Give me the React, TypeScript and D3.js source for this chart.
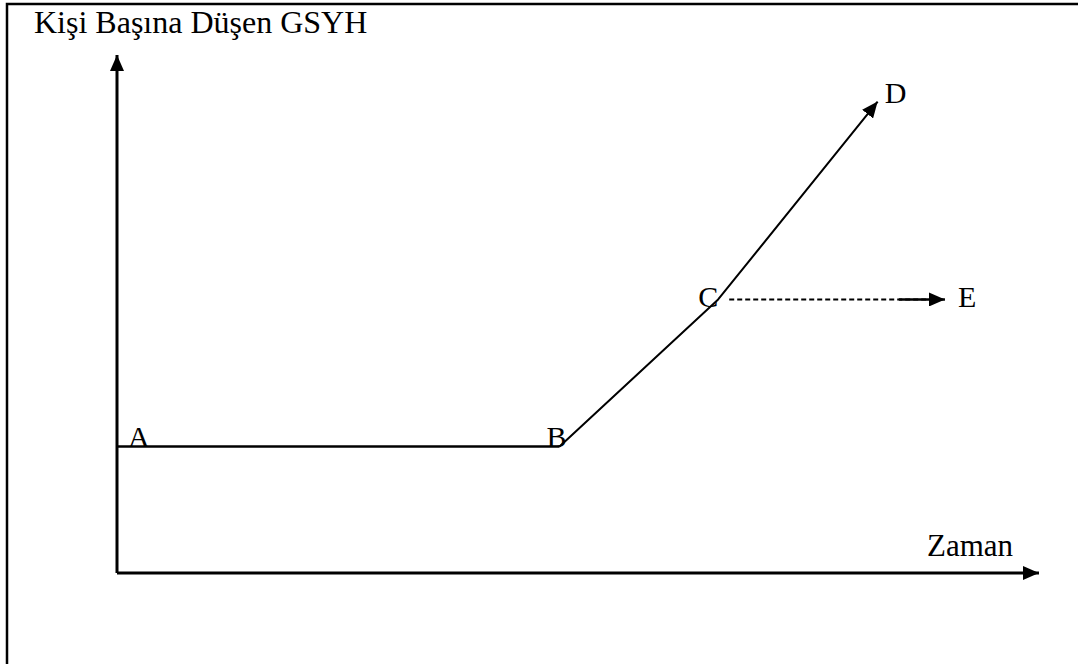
import React, { useEffect, useRef } from 'react';
import * as d3 from 'd3';

// Points of the growth path (time, GDP per capita)
const pathLabels = ['A', 'B', 'C', 'D'];
const pathTime = [0, 4.8, 6.52, 8.25];
const pathValue = [1.22, 1.22, 2.64, 4.55];

// the dashed branch from C towards E
const branchLabels = ['C', 'E'];
const branchTime = [6.52, 8.98];
const branchValue = [2.64, 2.64];

const yTitle = 'Kişi Başına Düşen GSYH';
const xTitle = 'Zaman';

const W = 1078;
const H = 664;
const FONT = '"Liberation Serif", "Times New Roman", serif';

const App = () => {
  const ref = useRef<SVGSVGElement | null>(null);

  useEffect(() => {
    const svg = d3.select(ref.current);
    svg.selectAll('*').remove();

    const x = d3.scaleLinear().domain([0, 10]).range([117, 1039]);
    const y = d3.scaleLinear().domain([0, 5]).range([573, 55]);

    const defs = svg.append('defs');
    const marker = (id: string, len: number, half: number) =>
      defs
        .append('marker')
        .attr('id', id)
        .attr('markerUnits', 'userSpaceOnUse')
        .attr('viewBox', `0 ${-half} ${len} ${half * 2}`)
        .attr('refX', len)
        .attr('refY', 0)
        .attr('markerWidth', len)
        .attr('markerHeight', half * 2)
        .attr('orient', 'auto')
        .append('path')
        .attr('d', `M0,${-half}L${len},0L0,${half}Z`)
        .attr('fill', '#000');
    marker('arrAxis', 16, 7);
    marker('arrLine', 16, 7);

    // frame, its right and bottom edges run off the page
    svg
      .append('rect')
      .attr('x', 7)
      .attr('y', 4)
      .attr('width', 1200)
      .attr('height', 800)
      .attr('fill', 'none')
      .attr('stroke', '#000')
      .attr('stroke-width', 2.5);

    // axes
    svg
      .append('line')
      .attr('x1', x(0))
      .attr('y1', y(0))
      .attr('x2', x(0))
      .attr('y2', y(5))
      .attr('stroke', '#000')
      .attr('stroke-width', 3)
      .attr('marker-end', 'url(#arrAxis)');
    svg
      .append('line')
      .attr('x1', x(0))
      .attr('y1', y(0))
      .attr('x2', x(10))
      .attr('y2', y(0))
      .attr('stroke', '#000')
      .attr('stroke-width', 3)
      .attr('marker-end', 'url(#arrAxis)');

    const pts = pathTime.map((t, i) => [t, pathValue[i]] as [number, number]);
    const line = d3
      .line<[number, number]>()
      .x((d) => x(d[0]))
      .y((d) => y(d[1]));

    // flat part A-B is drawn a little heavier
    svg
      .append('path')
      .attr('d', line(pts.slice(0, 2)))
      .attr('fill', 'none')
      .attr('stroke', '#000')
      .attr('stroke-width', 2.5);
    svg
      .append('path')
      .attr('d', line(pts.slice(1)))
      .attr('fill', 'none')
      .attr('stroke', '#000')
      .attr('stroke-width', 2)
      .attr('stroke-linejoin', 'round')
      .attr('marker-end', 'url(#arrLine)');

    const branch = branchTime.map((t, i) => [t, branchValue[i]] as [number, number]);
    svg
      .append('path')
      .attr('d', line([[branch[0][0] + 0.12, branch[0][1]], branch[1]]))
      .attr('fill', 'none')
      .attr('stroke', '#000')
      .attr('stroke-width', 1.8)
      .attr('stroke-dasharray', '5,3');
    svg
      .append('path')
      .attr('d', line([[branch[1][0] - 0.5, branch[1][1]], branch[1]]))
      .attr('fill', 'none')
      .attr('stroke', '#000')
      .attr('stroke-width', 2.5)
      .attr('marker-end', 'url(#arrLine)');

    // point labels
    const labelOffset: Record<string, [number, number]> = {
      A: [11, 0],
      B: [-13, 0],
      C: [-20, 8],
      D: [7, 1],
      E: [13, 8],
    };
    const labels = [
      ...pathLabels.map((l, i) => ({ l, t: pathTime[i], v: pathValue[i] })),
      { l: branchLabels[1], t: branchTime[1], v: branchValue[1] },
    ];
    svg
      .selectAll('text.pt')
      .data(labels)
      .join('text')
      .attr('class', 'pt')
      .attr('x', (d) => x(d.t) + labelOffset[d.l][0])
      .attr('y', (d) => y(d.v) + labelOffset[d.l][1])
      .attr('font-family', FONT)
      .attr('font-size', 30)
      .text((d) => d.l);

    svg
      .append('text')
      .attr('x', 34)
      .attr('y', 33)
      .attr('font-family', FONT)
      .attr('font-size', 32)
      .text(yTitle);

    svg
      .append('text')
      .attr('x', 927)
      .attr('y', 556)
      .attr('font-family', FONT)
      .attr('font-size', 31)
      .text(xTitle);
  }, []);

  return (
    <svg
      ref={ref}
      width={W}
      height={H}
      style={{ position: 'absolute', left: 0, top: 0, background: '#fff' }}
    />
  );
};

export default App;
